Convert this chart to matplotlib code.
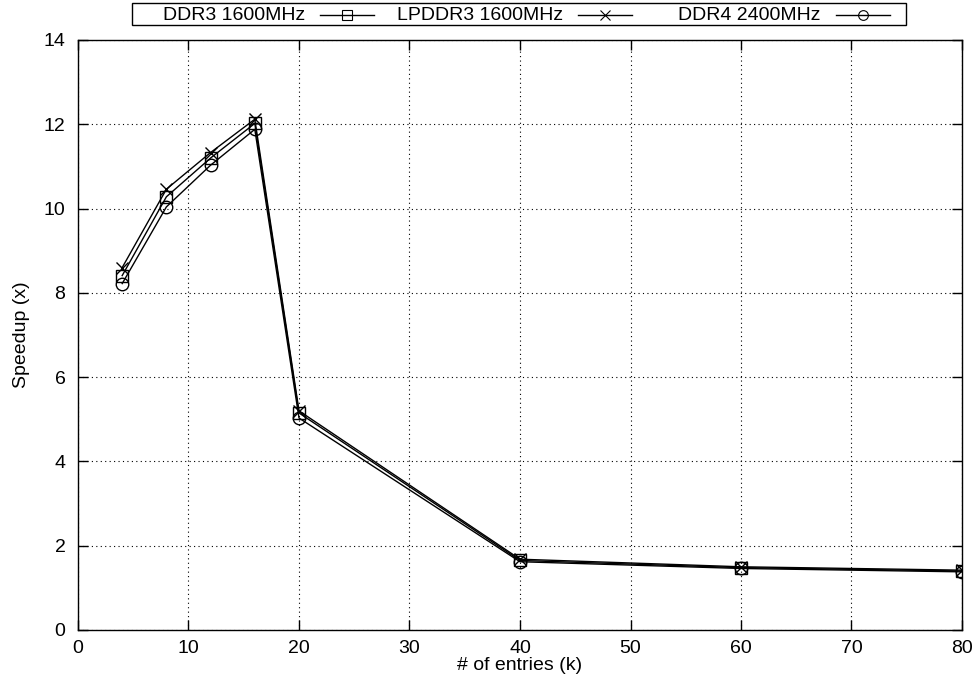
import matplotlib.pyplot as plt
from matplotlib.lines import Line2D
from matplotlib.patches import Rectangle
from matplotlib.ticker import MultipleLocator

# Datenreihen
entries = [4, 8, 12, 16, 20, 40, 60, 80]
ddr3 = [8.41, 10.28, 11.2, 12.02, 5.15, 1.65, 1.48, 1.40]
lpddr3 = [8.6, 10.46, 11.33, 12.12, 5.2, 1.68, 1.50, 1.42]
ddr4 = [8.22, 10.04, 11.03, 11.88, 5.03, 1.62, 1.46, 1.38]
labels = ["DDR3 1600MHz", "LPDDR3 1600MHz", "DDR4 2400MHz"]
markers = ['s', 'x', 'o']

plt.rcParams['font.family'] = ['Liberation Sans', 'DejaVu Sans']
plt.rcParams['font.size'] = 14

W, H = 978, 696
fig = plt.figure(figsize=(W / 100, H / 100), dpi=100)
ax = fig.add_axes([78 / W, 66 / H, 884 / W, 590 / H])

for serie, m in zip([ddr3, lpddr3, ddr4], markers):
    ax.plot(entries, serie, color='black', lw=1, marker=m, ms=9, mfc='none', mew=1)

ax.set_xlim(0, 80)
ax.set_ylim(0, 14)
ax.xaxis.set_major_locator(MultipleLocator(10))
ax.yaxis.set_major_locator(MultipleLocator(2))
ax.grid(True, color='black', linestyle=(0, (1, 3)), linewidth=0.8)
ax.tick_params(direction='in', length=7, width=1, top=True, right=True, pad=9)
ax.tick_params(axis='x', pad=7)
for s in ax.spines.values():
    s.set_linewidth(1)

ax.set_xlabel("# of entries (k)", labelpad=0)
ax.set_ylabel("Speedup (x)", labelpad=10)

# --- Legende im gnuplot-Stil (Text rechtsbündig, Muster rechts) ---
x0, x1, y0, y1 = 132, 906, 3, 25
fig.add_artist(Rectangle((x0 / W, 1 - y1 / H), (x1 - x0) / W, (y1 - y0) / H,
                         transform=fig.transFigure, fill=False, edgecolor='black', lw=1))
col_w = (x1 - x0) / 3
yc = 1 - 15 / H
for i, (lab, m) in enumerate(zip(labels, markers)):
    text_end = x0 + 173 + i * col_w
    fig.text(text_end / W, yc, lab, ha='right', va='center')
    ls, le = text_end + 15, text_end + 69
    fig.add_artist(Line2D([ls / W, le / W], [yc, yc], transform=fig.transFigure,
                          color='black', lw=1))
    fig.add_artist(Line2D([(ls + le) / 2 / W], [yc], transform=fig.transFigure,
                          color='black', marker=m, ms=7, mfc='none', mew=0.8))

fig.savefig("out.png", dpi=100)
